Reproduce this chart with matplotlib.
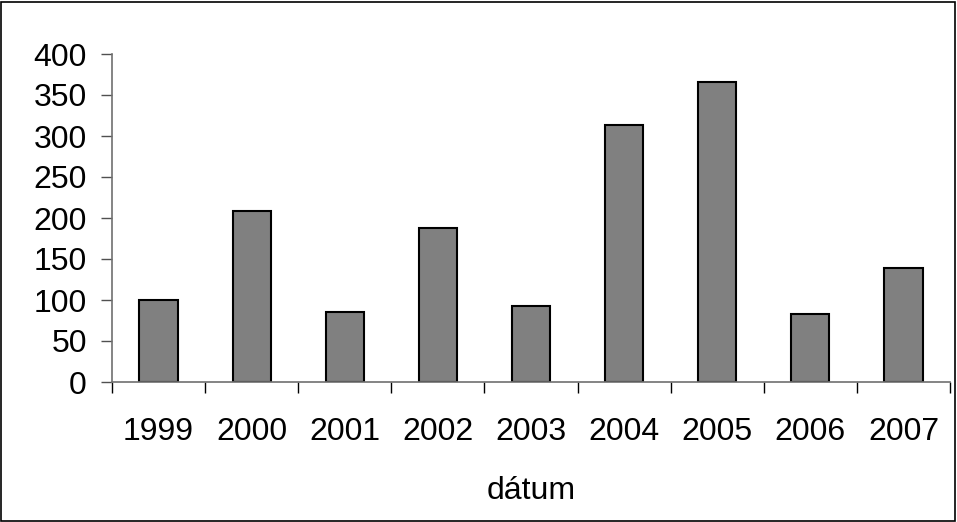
import matplotlib.pyplot as plt
from matplotlib.patches import Rectangle

years = ["1999", "2000", "2001", "2002", "2003", "2004", "2005", "2006", "2007"]
values = [100, 208, 85, 188, 93, 313, 366, 83, 139]

plt.rcParams['font.family'] = ['Liberation Sans', 'DejaVu Sans']

fig = plt.figure(figsize=(9.57, 5.22), dpi=100)
ax = fig.add_axes([112 / 957, 140 / 522, 838 / 957, 328 / 522])

x = range(len(years))
ax.bar(x, values, width=0.41, color='#808080', edgecolor='black', linewidth=1.5)

ax.set_xlim(-0.5, len(years) - 0.5)
ax.set_ylim(0, 400)
ax.set_yticks(range(0, 401, 50))
ax.set_xticks([i - 0.5 for i in range(len(years) + 1)], minor=False)
ax.set_xticklabels([])
ax.set_xticks(list(x), minor=True)
ax.set_xticklabels(years, minor=True)
ax.tick_params(axis='x', which='minor', length=0, labelsize=23, pad=25)
ax.tick_params(axis='x', which='major', length=8, width=1, color='black', direction='out')
ax.tick_params(axis='y', length=8, width=1, color='#505050', labelsize=23, pad=10)

for side in ['top', 'right']:
    ax.spines[side].set_visible(False)
for side in ['left', 'bottom']:
    ax.spines[side].set_color('#707070')
    ax.spines[side].set_linewidth(1.2)

ax.set_xlabel('dátum', fontsize=23, labelpad=21)

fig.patches.append(Rectangle((0.001, 0.002), 0.997, 0.994, transform=fig.transFigure,
                             fill=False, edgecolor='black', linewidth=1.2))

fig.savefig('out.png', dpi=100)
